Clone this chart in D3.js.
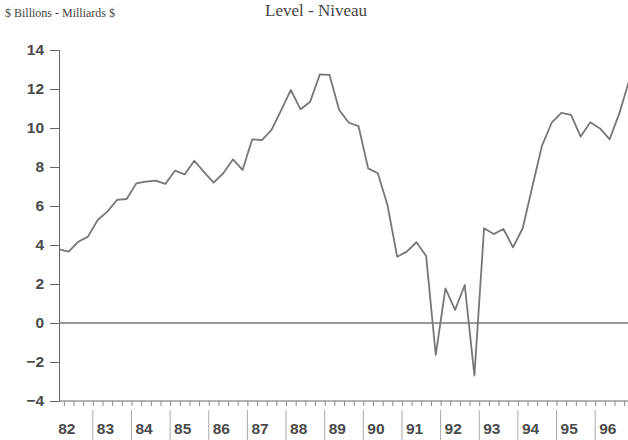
<!DOCTYPE html>
<html>
<head>
<meta charset="utf-8">
<script src="https://cdn.jsdelivr.net/npm/d3@7"></script>
<style>
  body { margin: 0; background: #fff; }
  svg { display: block; }
</style>
</head>
<body>
<svg></svg>
<script>
let width = 628,
    height = 440;

// quarterly values, 1982Q1 .. 1996Q4
let years = [1982, 1983, 1984, 1985, 1986, 1987, 1988, 1989, 1990, 1991, 1992, 1993, 1994, 1995, 1996]
let yearLabels = ['82', '83', '84', '85', '86', '87', '88', '89', '90', '91', '92', '93', '94', '95', '96']
let values = [
    3.78, 3.66, 4.17, 4.43,
    5.28, 5.71, 6.31, 6.36,
    7.16, 7.25, 7.30, 7.13,
    7.81, 7.62, 8.32, 7.75,
    7.20, 7.68, 8.39, 7.85,
    9.42, 9.38, 9.90, 10.92,
    11.95, 10.96, 11.35, 12.75,
    12.72, 10.92, 10.27, 10.10,
    7.93, 7.68, 6.05, 3.40,
    3.66, 4.14, 3.44, -1.64,
    1.78, 0.67, 1.95, -2.70,
    4.86, 4.56, 4.82, 3.88,
    4.86, 7.00, 9.10, 10.27,
    10.78, 10.67, 9.56, 10.29,
    9.98, 9.42, 10.75, 12.40
]
let yTicks = [-4, -2, 0, 2, 4, 6, 8, 10, 12, 14]

let data = values.map((v, i) => ({ t: 1982 + Math.floor(i / 4) + ((i % 4) + 0.5) / 4, v: v }))

let svg = d3.select('svg')
    .attr('width', width)
    .attr('height', height)

let x = d3.scaleLinear()
    .domain([1982, 1997])
    .range([54.2, 54.2 + 15 * 38.64])

let y = d3.scaleLinear()
    .domain([-4, 14])
    .range([401, 50])

let axisColor = '#666'
let textColor = '#4a4a4a'

// titles
svg.append('text')
    .attr('x', 5).attr('y', 17)
    .attr('font-family', 'Liberation Serif, serif')
    .attr('font-size', 12)
    .attr('fill', '#444')
    .text('$ Billions - Milliards $')

svg.append('text')
    .attr('x', 316).attr('y', 16)
    .attr('text-anchor', 'middle')
    .attr('font-family', 'Liberation Serif, serif')
    .attr('font-size', 17)
    .attr('fill', '#444')
    .text('Level - Niveau')

// y axis
let yAxis = svg.append('g')
    .attr('transform', `translate(${x(data[0].t)},0)`)
    .call(d3.axisLeft(y).tickValues(yTicks).tickSize(9).tickPadding(6))

yAxis.select('.domain').attr('stroke', axisColor).attr('stroke-width', 1)
yAxis.selectAll('.tick line').attr('stroke', axisColor)
yAxis.selectAll('.tick text')
    .attr('font-family', 'Liberation Sans, Arial, sans-serif')
    .attr('font-size', 15.5)
    .attr('font-weight', 'bold')
    .attr('fill', textColor)

// x axis with quarter ticks
let quarterTicks = d3.range(1982.25, 1997, 0.25).filter(t => x(t) > x(data[0].t) + 2)
let xAxis = svg.append('g')
    .attr('transform', `translate(0,${y(-4)})`)
    .call(d3.axisBottom(x).tickValues(quarterTicks).tickFormat('').tickSize(5).tickSizeOuter(0))

xAxis.select('.domain')
    .attr('d', `M${x(data[0].t)},0H${width}`)
    .attr('stroke', axisColor)
xAxis.selectAll('.tick line').attr('stroke', '#888')

// year separators and labels
svg.append('g').selectAll('line')
    .data(years.slice(1))
    .enter().append('line')
    .attr('x1', d => x(d)).attr('x2', d => x(d))
    .attr('y1', 410).attr('y2', 440)
    .attr('stroke', '#aaa')
    .attr('stroke-width', 1)

svg.append('g').selectAll('text')
    .data(years)
    .enter().append('text')
    .attr('x', d => x(d) + 4)
    .attr('y', 434)
    .attr('font-family', 'Liberation Sans, Arial, sans-serif')
    .attr('font-size', 15.5)
    .attr('font-weight', 'bold')
    .attr('fill', textColor)
    .text((d, i) => yearLabels[i])

// zero line
svg.append('line')
    .attr('x1', x(data[0].t)).attr('x2', width)
    .attr('y1', y(0)).attr('y2', y(0))
    .attr('stroke', '#777')
    .attr('stroke-width', 1.5)

// series
let line = d3.line()
    .x(d => x(d.t))
    .y(d => y(d.v))

svg.append('path')
    .datum(data)
    .attr('d', line)
    .attr('fill', 'none')
    .attr('stroke', '#777')
    .attr('stroke-width', 1.8)
    .attr('stroke-linejoin', 'round')
</script>
</body>
</html>
